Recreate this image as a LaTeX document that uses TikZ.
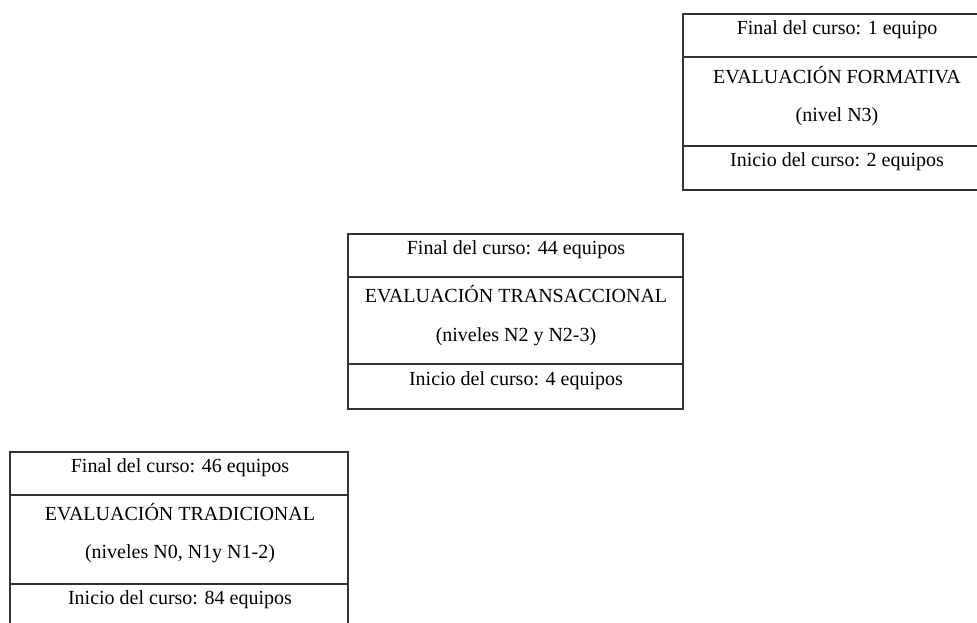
\documentclass[tikz,border=0pt]{standalone}
\usepackage{fontspec}
\setmainfont{Liberation Serif}

\tikzset{
	tabla/.style={line width=0.8pt, draw=black!80},
	celda/.style={inner sep=0pt, font=\fontsize{10}{12}\selectfont}
}

\begin{document}
\begin{tikzpicture}[x=0.5pt,y=-0.5pt]
	
	\useasboundingbox (0,0) rectangle (977,622);
	\clip (0,0) rectangle (977,622);
	
	% tradicional
	\draw [tabla] (10,452) rectangle (348,627);
	\draw [tabla] (10,495) -- (348,495);
	\draw [tabla] (10,584) -- (348,584);
	
	\node [celda] (fin1) at (180,468) {Final del curso: 46 equipos};
	\node [celda] (eval1) at (180,512) {EVALUACIÓN TRADICIONAL};
	\node [celda] (niv1) at (180,554) {(niveles N0, N1y N1-2)};
	\node [celda] (ini1) at (180,600) {Inicio del curso: 84 equipos};
	
	% transaccional
	\draw [tabla] (348,234) rectangle (683,409);
	\draw [tabla] (348,277) -- (683,277);
	\draw [tabla] (348,364) -- (683,364);
	
	\node [celda] (fin2) at (516,250) {Final del curso: 44 equipos};
	\node [celda] (eval2) at (516,294) {EVALUACIÓN TRANSACCIONAL};
	\node [celda] (niv2) at (516,337) {(niveles N2 y N2-3)};
	\node [celda] (ini2) at (516,381) {Inicio del curso: 4 equipos};
	
	% formativa
	\draw [tabla] (683,14) rectangle (989,190);
	\draw [tabla] (683,57) -- (989,57);
	\draw [tabla] (683,146) -- (989,146);
	
	\node [celda] (fin3) at (837,30) {Final del curso: 1 equipo};
	\node [celda] (eval3) at (837,75) {EVALUACIÓN FORMATIVA};
	\node [celda] (niv3) at (837,117) {(nivel N3)};
	\node [celda] (ini3) at (837,162) {Inicio del curso: 2 equipos};
	
\end{tikzpicture}
\end{document}
